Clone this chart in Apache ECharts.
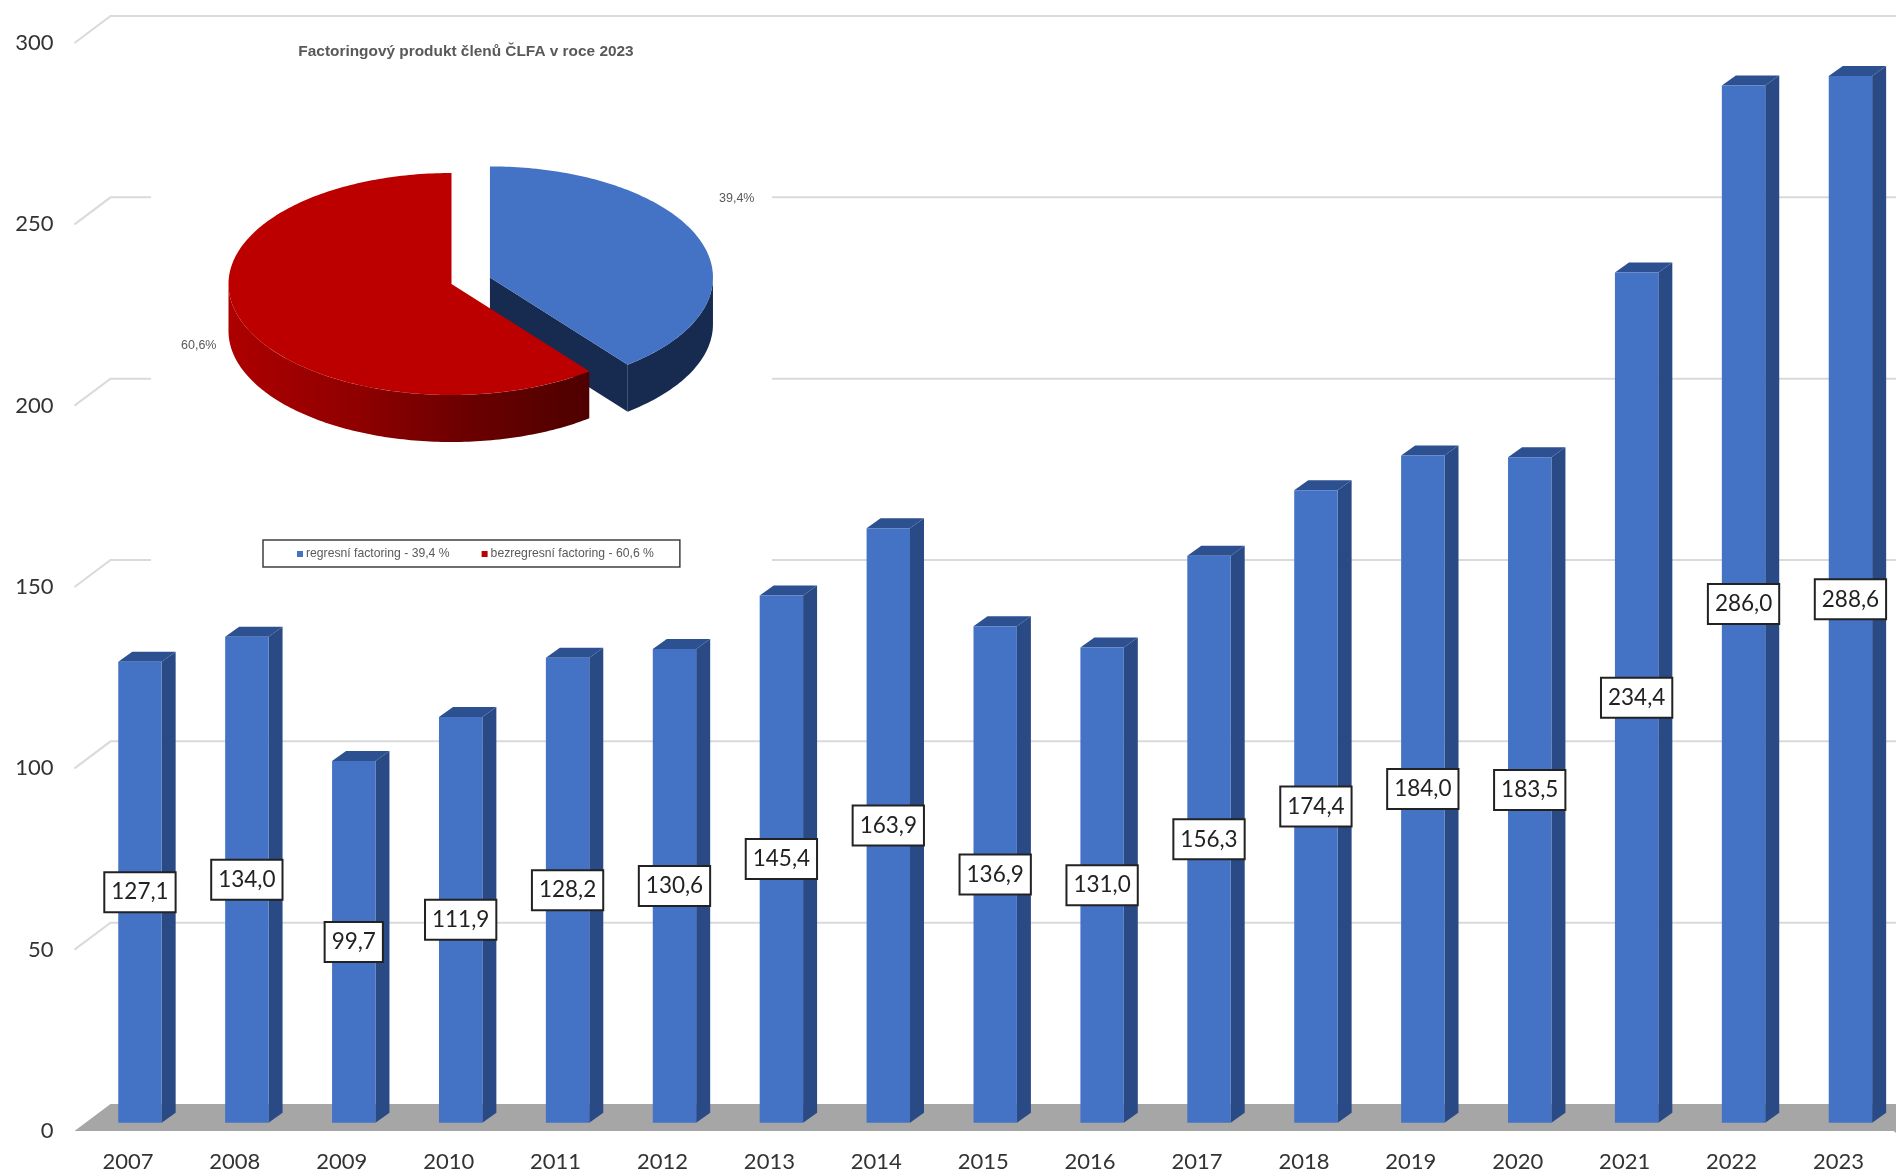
<!DOCTYPE html>
<html lang="cs">
<head>
<meta charset="utf-8">
<title>Factoring</title>
<style>
  html, body { margin: 0; padding: 0; background: #fff; }
  #chart { width: 1896px; height: 1174px; }
</style>
<script src="https://cdn.jsdelivr.net/npm/echarts@6/dist/echarts.min.js"></script>
</head>
<body>
<div id="chart"></div>
<script>
// Yearly turnover columns
const years = ['2007','2008','2009','2010','2011','2012','2013','2014','2015','2016','2017','2018','2019','2020','2021','2022','2023'];
const turnover = [127.1,134.0,99.7,111.9,128.2,130.6,145.4,163.9,136.9,131.0,156.3,174.4,184.0,183.5,234.4,286.0,288.6];
const wallTicks = [50,100,150,200,250,300];

// Product split for the inset pie
const pieTitle = 'Factoringový produkt členů ČLFA v roce 2023';
const recourseName = 'regresní factoring - 39,4 %';
const nonRecourseName = 'bezregresní factoring - 60,6 %';
const recourseShare = 39.4;
const nonRecourseShare = 60.6;

// Oblique projection of the column chart
const WALL_DX = 36, WALL_DY = -27;
const BAR_DX = 12, BAR_DY = -8.3;
const BAR_HALF = 21.7, BAR_DEPTH_X = 14, BAR_DEPTH_Y = -10;

// Tilted pie: ellipse centre, radii, extrusion and explode distance
const PIE = { cx: 451.5, cy: 284, rx: 223, ry: 111, depth: 47, explode: 40.7 };

const BLUE = '#4472c4', BLUE_SIDE = '#172b50', RED = '#bc0000';

function ellipsePoint(c, deg) {
  const a = deg * Math.PI / 180;
  return [c.x + PIE.rx * Math.sin(a), c.y - PIE.ry * Math.cos(a)];
}
function arcPoints(c, from, to) {
  const pts = [];
  const n = Math.max(2, Math.ceil(Math.abs(to - from)));
  for (let i = 0; i <= n; i++) pts.push(ellipsePoint(c, from + (to - from) * i / n));
  return pts;
}
const lower = pts => pts.map(p => [p[0], p[1] + PIE.depth]);
const poly = (points, style) => ({ type: 'polygon', shape: { points }, style });

// Floor slab and the back/side wall rules
function renderWalls(params, api) {
  const cs = params.coordSys;
  const y0 = api.coord([0, 0])[1];
  const x0 = cs.x, x1 = cs.x + cs.width;
  if (params.dataIndex === 0) {
    return poly([[x0, y0], [x0 + WALL_DX, y0 + WALL_DY], [1896, y0 + WALL_DY], [1896, y0 + 2], [x1 + 2, y0]], { fill: '#a6a6a6' });
  }
  const y = api.coord([0, api.value(0)])[1];
  return {
    type: 'polyline',
    shape: { points: [[x0, y], [x0 + WALL_DX, y + WALL_DY], [1896, y + WALL_DY]] },
    style: { stroke: '#dadada', lineWidth: 2, fill: null }
  };
}

// White backing behind the inset pie
function renderBacking() {
  return { type: 'rect', shape: { x: 151, y: 26, width: 621, height: 549 }, style: { fill: '#fff' } };
}

// One 3D column with its boxed value label
function renderColumn(params, api) {
  const v = api.value(1);
  const base = api.coord([api.value(0), 0]);
  const top = api.coord([api.value(0), v]);
  const cx = base[0] + BAR_DX, l = cx - BAR_HALF, r = cx + BAR_HALF;
  const yb = base[1] + BAR_DY, yt = top[1] + BAR_DY;
  const text = v.toFixed(1).replace('.', ',');
  return {
    type: 'group',
    children: [
      poly([[r, yt], [r + BAR_DEPTH_X, yt + BAR_DEPTH_Y], [r + BAR_DEPTH_X, yb + BAR_DEPTH_Y], [r, yb]], { fill: '#2a4a85' }),
      poly([[l, yt], [l + BAR_DEPTH_X, yt + BAR_DEPTH_Y], [r + BAR_DEPTH_X, yt + BAR_DEPTH_Y], [r, yt]], { fill: '#2d5090' }),
      { type: 'rect', shape: { x: l, y: yt, width: r - l, height: yb - yt }, style: { fill: BLUE } },
      {
        type: 'text',
        x: cx,
        y: (yt + yb) / 2,
        style: {
          text,
          fill: '#222',
          fontFamily: 'Lato',
          fontSize: 22.5,
          align: 'center',
          verticalAlign: 'middle',
          backgroundColor: '#fff',
          borderColor: '#222',
          borderWidth: 2,
          padding: [8, 6, 7, 6]
        }
      }
    ]
  };
}

// Angles run clockwise from twelve o'clock; the recourse slice comes first and is pulled out
const recourseEnd = recourseShare / (recourseShare + nonRecourseShare) * 360;

function renderRecourse() {
  const mid = recourseEnd / 2 * Math.PI / 180;
  const c = {
    x: PIE.cx + PIE.explode * Math.sin(mid),
    y: PIE.cy - PIE.explode * Math.cos(mid) * PIE.ry / PIE.rx
  };
  const apex = [c.x, c.y];
  const end = ellipsePoint(c, recourseEnd);
  const rim = arcPoints(c, 90, recourseEnd);
  return {
    type: 'group',
    children: [
      poly([apex, end, lower([end])[0], lower([apex])[0]], { fill: BLUE_SIDE }),
      poly(rim.concat(lower(rim).reverse()), { fill: BLUE_SIDE }),
      poly([apex].concat(arcPoints(c, 0, recourseEnd)), { fill: BLUE })
    ]
  };
}

function renderNonRecourse() {
  const c = { x: PIE.cx, y: PIE.cy };
  const rim = arcPoints(c, recourseEnd, 270);
  const shade = new echarts.graphic.LinearGradient(PIE.cx - PIE.rx, 0, ellipsePoint(c, recourseEnd)[0], 0, [
    { offset: 0, color: '#ad0000' },
    { offset: 0.35, color: '#900000' },
    { offset: 0.65, color: '#6c0000' },
    { offset: 1, color: '#4e0000' }
  ], true);
  return {
    type: 'group',
    children: [
      poly(rim.concat(lower(rim).reverse()), { fill: shade }),
      poly([[c.x, c.y]].concat(arcPoints(c, recourseEnd, 360)), { fill: RED })
    ]
  };
}

function pieLabel(text, x, y) {
  return {
    type: 'text', z: 20, left: x, top: y,
    style: { text, fill: '#595959', fontFamily: 'Liberation Sans', fontSize: 12.5, textAlign: 'center', textVerticalAlign: 'middle' }
  };
}

const chart = echarts.init(document.getElementById('chart'), null, { renderer: 'canvas' });
chart.setOption({
  animation: false,
  backgroundColor: '#ffffff',
  title: {
    text: pieTitle,
    left: 461,
    top: 39,
    textAlign: 'center',
    textStyle: { fontFamily: 'Liberation Sans', fontSize: 15.4, fontWeight: 'bold', color: '#595959' }
  },
  legend: {
    show: true,
    data: [recourseName, nonRecourseName],
    left: 263,
    top: 540,
    orient: 'horizontal',
    icon: 'rect',
    itemWidth: 6,
    itemHeight: 6,
    itemGap: 32,
    padding: [8, 26, 7, 34],
    backgroundColor: '#fff',
    borderColor: '#404040',
    borderWidth: 1.5,
    selectedMode: false,
    textStyle: { fontFamily: 'Liberation Sans', fontSize: 12.2, color: '#595959', padding: [0, 0, 0, -2] },
    z: 20
  },
  grid: { left: 74.5, width: 1817.4, top: 43, bottom: 43, containLabel: false },
  xAxis: {
    type: 'category',
    data: years,
    axisLine: { show: false },
    axisTick: { show: false },
    axisLabel: { fontFamily: 'Lato', fontSize: 22, color: '#333', margin: 20 }
  },
  yAxis: {
    type: 'value',
    min: 0,
    max: 300,
    interval: 50,
    axisLine: { show: false },
    axisTick: { show: false },
    splitLine: { show: false },
    axisLabel: { fontFamily: 'Lato', fontSize: 22, color: '#333', margin: 21, padding: [5, 0, 0, 0] }
  },
  graphic: [
    pieLabel('39,4%', 719, 192),
    pieLabel('60,6%', 181, 339)
  ],
  series: [
    {
      type: 'custom', name: 'walls', z: 1, silent: true,
      renderItem: renderWalls,
      data: [[0]].concat(wallTicks.map(t => [t])),
      encode: { x: [], y: 0 }
    },
    {
      type: 'custom', name: 'backing', z: 2, silent: true,
      coordinateSystem: 'none',
      renderItem: renderBacking,
      data: [[0]]
    },
    {
      type: 'custom', name: 'columns', z: 3,
      renderItem: renderColumn,
      data: years.map((y, i) => [y, turnover[i]]),
      encode: { x: 0, y: 1 }
    },
    {
      type: 'custom', name: recourseName, z: 4,
      coordinateSystem: 'none',
      itemStyle: { color: BLUE },
      renderItem: renderRecourse,
      data: [[recourseShare]]
    },
    {
      type: 'custom', name: nonRecourseName, z: 5,
      coordinateSystem: 'none',
      itemStyle: { color: RED },
      renderItem: renderNonRecourse,
      data: [[nonRecourseShare]]
    }
  ]
});
</script>
</body>
</html>
